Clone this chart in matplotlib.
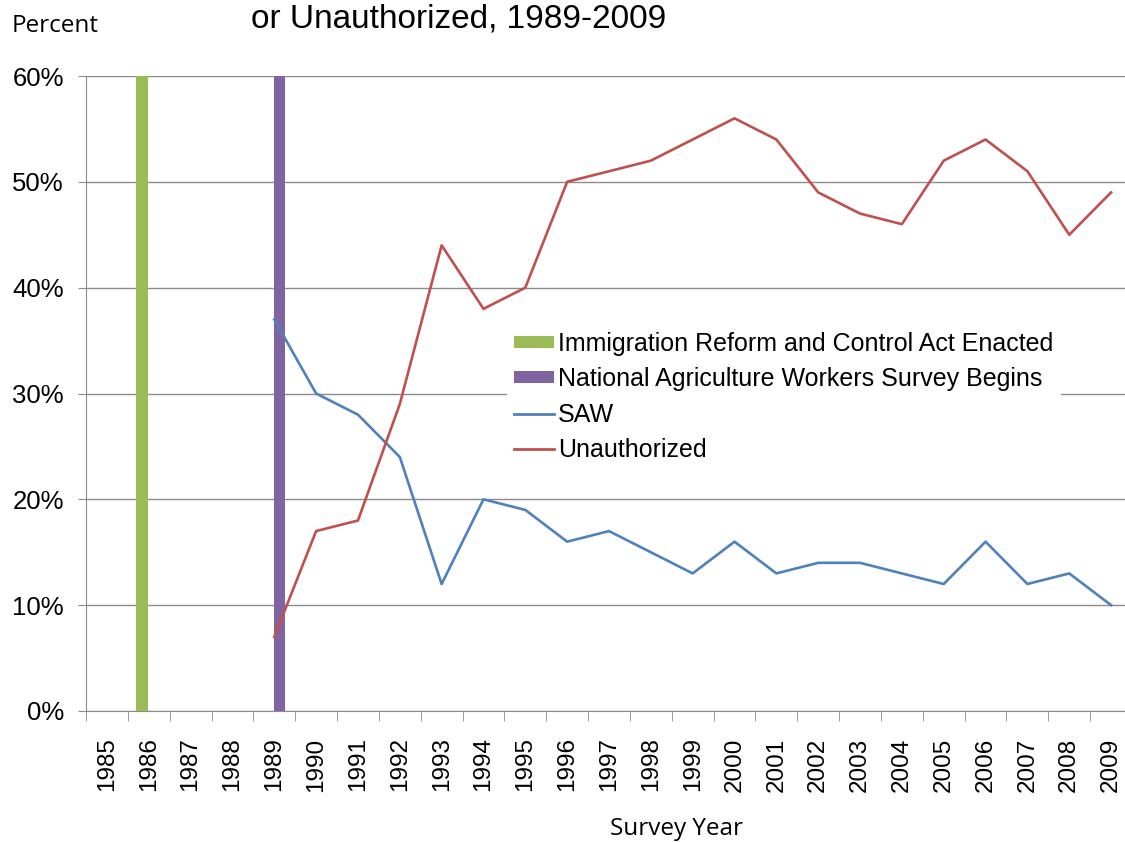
import matplotlib.pyplot as plt
from matplotlib.patches import Patch
from matplotlib.lines import Line2D

years = list(range(1985, 2010))
line_years = list(range(1989, 2010))
saw = [37, 30, 28, 24, 12, 20, 19, 16, 17, 15, 13, 16, 13, 14, 14, 13, 12, 16, 12, 13, 10]
unauth = [7, 17, 18, 29, 44, 38, 40, 50, 51, 52, 54, 56, 54, 49, 47, 46, 52, 54, 51, 45, 49]
irca_year = 1986
naws_year = 1989
event_height = 60

green = '#9BBB59'
purple = '#8064A2'
blue = '#4F81BD'
red = '#C0504D'
grid_c = '#8c8c8c'

plt.rcParams['font.family'] = ['Liberation Sans', 'DejaVu Sans']

fig = plt.figure(figsize=(11.25, 8.42), dpi=100)
ax = fig.add_axes([86 / 1125, 1 - 711 / 842, 1046 / 1125, 635 / 842])

pos = {y: i for i, y in enumerate(years)}
bw = 0.27
ax.bar(pos[irca_year] - 0.16, event_height, width=bw, color=green, zorder=2)
ax.bar(pos[naws_year] + 0.12, event_height, width=bw, color=purple, zorder=2)

xs = [pos[y] for y in line_years]
ax.plot(xs, saw, color=blue, lw=1.9, zorder=3)
ax.plot(xs, unauth, color=red, lw=1.9, zorder=3)

ax.set_xlim(-0.5, len(years) - 0.5)
ax.set_ylim(0, 60)
ax.set_yticks(range(0, 61, 10))
ax.set_yticklabels([f'{v}%' for v in range(0, 61, 10)], fontsize=18.5)
ax.yaxis.grid(True, color=grid_c, lw=1.0)
ax.set_axisbelow(True)

ax.set_xticks(range(len(years)))
ax.set_xticklabels([str(y) for y in years], rotation=90, fontsize=17.5)
ax.set_xticks([i - 0.5 for i in range(len(years) + 1)], minor=True)
ax.tick_params(axis='x', which='major', length=0, pad=19)
ax.tick_params(axis='x', which='minor', length=7, color=grid_c)
ax.tick_params(axis='y', length=6, color=grid_c, pad=10)

for s in ['top', 'right']:
    ax.spines[s].set_visible(False)
for s in ['left', 'bottom']:
    ax.spines[s].set_color(grid_c)

handles = [
    Patch(facecolor=green, edgecolor='none'),
    Patch(facecolor=purple, edgecolor='none'),
    Line2D([], [], color=blue, lw=2),
    Line2D([], [], color=red, lw=2),
]
labels = ['Immigration Reform and Control Act Enacted',
          'National Agriculture Workers Survey Begins',
          'SAW', 'Unauthorized']
leg = ax.legend(handles, labels, loc='upper left',
                bbox_to_anchor=(494 / 1125, 1 - 312 / 842),
                bbox_transform=fig.transFigure, fontsize=18,
                frameon=True, facecolor='white', edgecolor='none', framealpha=1,
                handlelength=1.6, handleheight=0.35, handletextpad=0.15,
                labelspacing=0.45, borderpad=0.3, fancybox=False)
leg.set_zorder(5)

fig.text(459 / 1125, 1 - 19 / 842, 'or Unauthorized, 1989-2009', fontsize=24,
         ha='center', va='center')
fig.text(12 / 1125, 1 - 26 / 842, 'Percent', fontsize=17.5,
         family=['Open Sans', 'DejaVu Sans'], ha='left', va='center')
fig.text(677 / 1125, 1 - 829 / 842, 'Survey Year', fontsize=17.5,
         family=['Open Sans', 'DejaVu Sans'], ha='center', va='center')

fig.savefig('out.png', dpi=100)
